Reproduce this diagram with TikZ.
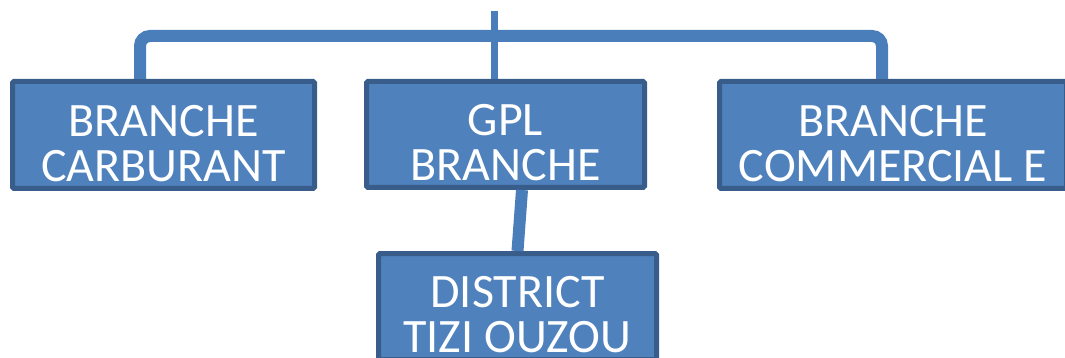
\documentclass[tikz,border=0pt]{standalone}
\usepackage{fontspec}
\setmainfont{Carlito}
\definecolor{boxfill}{HTML}{4F81BD}
\definecolor{boxline}{HTML}{385D8A}
\definecolor{linkblue}{HTML}{4A7EBB}
\newcommand\capstrut{\rule{0pt}{1.0em}}

\begin{document}
\begin{tikzpicture}
    [
        x=1pt, y=-1pt,
        unit/.style={rectangle, draw=boxline, fill=boxfill, line width=5pt, rounded corners=1.5pt, text=white, align=center, inner sep=0pt, font=\fontsize{48}{45}\selectfont,},
        link/.style={draw=linkblue, line width=12pt, rounded corners=10pt,},
        thinlink/.style={draw=linkblue, line width=7pt,},
    ]
    \useasboundingbox (0,0) rectangle (1065,358);
    \clip (0,0) rectangle (1065,358);

    % org chart
    \node (carb) at (163.5,135) [unit, minimum width=302, minimum height=107] {\capstrut BRANCHE\\CARBURANT};
    \node (gpl)  at (505.5,134.5) [unit, minimum width=278, minimum height=106] {\capstrut GPL\\BRANCHE};
    \node (comm) at (893,135)   [unit, minimum width=347, minimum height=107] {\capstrut BRANCHE\\COMMERCIAL E};
    \node (dist) at (517.5,306.5) [unit, minimum width=278, minimum height=106] {\capstrut DISTRICT\\TIZI OUZOU};
    \coordinate (top) at (494,11);
    \coordinate (bar) at (494,36);
    \draw [link] ([xshift=-23.5]carb.north) |- (bar) -| ([xshift=-11]comm.north);
    \draw [thinlink] (top) -- (gpl.north -| top);
    \draw [link] ([xshift=16.5]gpl.south) -- (dist.north);

\end{tikzpicture}
\end{document}
